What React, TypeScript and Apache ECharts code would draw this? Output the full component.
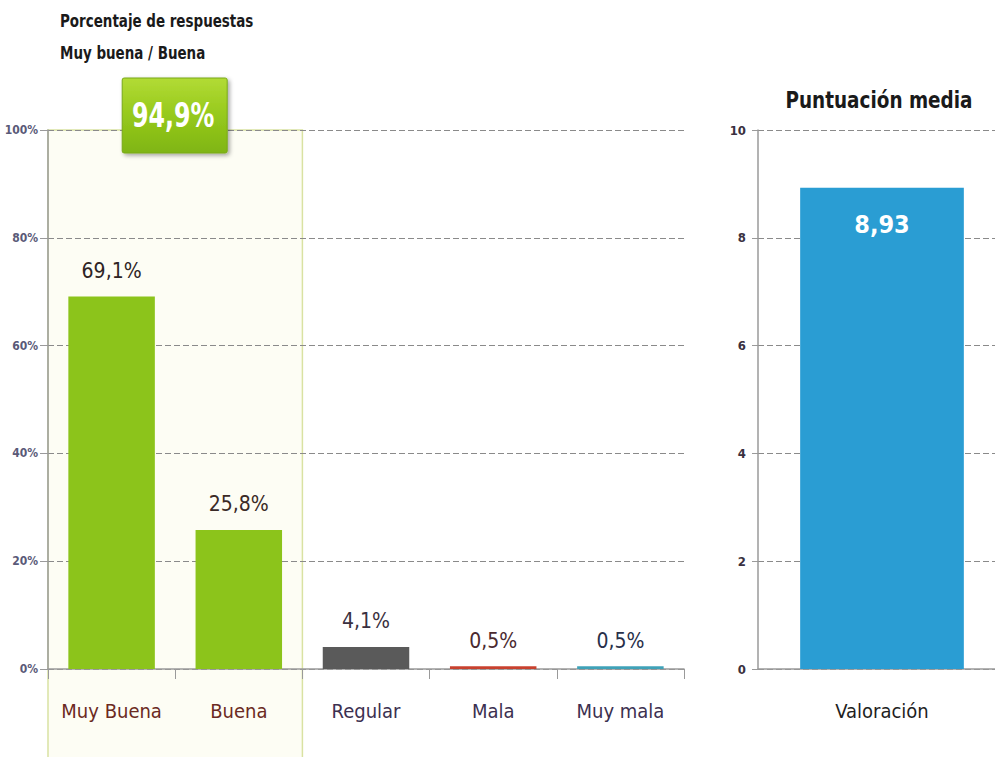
import React, { useEffect, useRef } from "react";
import * as echarts from "echarts";

const categories = ["Muy Buena", "Buena", "Regular", "Mala", "Muy mala"];
const percentages = [69.1, 25.8, 4.1, 0.5, 0.5];
const barColors = ["#8cc41b", "#8cc41b", "#5a5a5a", "#c8412e", "#3fa2b8"];
const labelColors = ["#2e2424", "#3a2a26", "#3a3040", "#4a2a30", "#28304a"];
const catLabelColors = ["#6b2a22", "#6b2a22", "#3c3050", "#3c3050", "#3c3050"];
const percentTicks = [0, 20, 40, 60, 80, 100];
const combinedLabel = "94,9%";
const scoreCategories = ["Valoración"];
const scoreValues = [8.93];

const FONT = "'DejaVu Sans Condensed', 'Liberation Sans Narrow', sans-serif";

const fmt = (v: number, d: number) => v.toFixed(d).replace(".", ",");

export default function App() {
  const ref = useRef<HTMLDivElement>(null);
  useEffect(() => {
    document.body.style.margin = "0";
    const chart = echarts.init(ref.current!, null, { renderer: "svg" });
    const option: any = {
      animation: false,
      backgroundColor: "#ffffff",
      grid: [
        { left: 48, top: 130, width: 636, bottom: 88 },
        { left: 758, top: 130, width: 248, bottom: 88 },
      ],
      xAxis: [
        {
          gridIndex: 0,
          type: "category",
          data: categories,
          axisLine: { lineStyle: { color: "#9a9a9a", width: 1.5 } },
          axisTick: { show: true, length: 10, lineStyle: { color: "#9a9a9a" } },
          axisLabel: {
            interval: 0,
            margin: 32,
            fontFamily: FONT,
            fontSize: 20,
            color: (v: string, i: number) => catLabelColors[i],
          },
        },
        {
          gridIndex: 1,
          type: "category",
          data: scoreCategories,
          axisLine: { lineStyle: { color: "#9a9a9a", width: 1.5 } },
          axisTick: { show: false },
          axisLabel: { interval: 0, margin: 32, fontFamily: FONT, fontSize: 20, color: "#1e1e1e" },
        },
      ],
      yAxis: [
        {
          gridIndex: 0,
          type: "value",
          min: percentTicks[0],
          max: percentTicks[percentTicks.length - 1],
          interval: 20,
          axisLine: { show: true, lineStyle: { color: "#9a9a9a", width: 1.5 } },
          axisTick: { show: true, length: 8, lineStyle: { color: "#9a9a9a" } },
          axisLabel: {
            margin: 10,
            fontFamily: FONT,
            fontWeight: "bold",
            fontSize: 12,
            color: (v: number) => (v === 100 ? "#7a5030" : v === 0 ? "#1a1a1a" : "#5a5a78"),
            formatter: "{value}%",
          },
          splitLine: { show: true, lineStyle: { color: "#8a8a8a", type: [6, 3], width: 1.2 } },
        },
        {
          gridIndex: 1,
          type: "value",
          min: 0,
          max: 10,
          interval: 2,
          axisLine: { show: true, lineStyle: { color: "#9a9a9a", width: 1.5 } },
          axisTick: { show: true, length: 6, lineStyle: { color: "#9a9a9a" } },
          axisLabel: {
            margin: 12,
            fontFamily: FONT,
            fontWeight: "bold",
            fontSize: 13,
            color: "#3a3040",
          },
          splitLine: { show: true, lineStyle: { color: "#8a8a8a", type: [6, 3], width: 1.2 } },
        },
      ],
      series: [
        {
          type: "bar",
          xAxisIndex: 0,
          yAxisIndex: 0,
          barCategoryGap: "32%",
          z: 3,
          data: percentages.map((v, i) => ({
            value: v,
            itemStyle: { color: barColors[i] },
            label: { color: labelColors[i] },
          })),
          label: {
            show: true,
            position: "top",
            distance: 15,
            fontFamily: FONT,
            fontSize: 21,
            formatter: (p: any) => fmt(p.value, 1) + "%",
          },
        },
        {
          type: "bar",
          xAxisIndex: 1,
          yAxisIndex: 1,
          barCategoryGap: "34%",
          z: 3,
          data: scoreValues,
          itemStyle: { color: "#2a9dd3" },
          label: {
            show: true,
            position: "insideTop",
            distance: 24,
            fontFamily: FONT,
            fontWeight: "bold",
            fontSize: 25,
            color: "#ffffff",
            formatter: (p: any) => fmt(p.value, 2),
          },
        },
      ],
    };
    chart.setOption(option);

    const c0 = chart.convertToPixel({ xAxisIndex: 0 }, categories[0]) as number;
    const c1 = chart.convertToPixel({ xAxisIndex: 0 }, categories[1]) as number;
    const band = c1 - c0;
    const boxLeft = c0 - band / 2;
    const boxRight = c1 + band / 2;
    const yTop = chart.convertToPixel({ yAxisIndex: 0 }, 100) as number;
    const scoreX = chart.convertToPixel({ xAxisIndex: 1 }, scoreCategories[0]) as number;
    const boxCx = (boxLeft + boxRight) / 2;

    chart.setOption({
      graphic: [
        {
          type: "rect",
          z: -10,
          silent: true,
          shape: { x: boxLeft, y: yTop, width: boxRight - boxLeft, height: 800 },
          style: { fill: "#fdfdf4", stroke: "#d9e2a2", lineWidth: 1.5 },
        },
        {
          type: "group",
          z: 10,
          children: [
            {
              type: "rect",
              shape: { x: boxCx - 53, y: yTop - 52, width: 105, height: 75, r: 2 },
              style: {
                fill: new echarts.graphic.LinearGradient(0, 0, 0, 1, [
                  { offset: 0, color: "#b2db35" },
                  { offset: 0.5, color: "#96c91c" },
                  { offset: 1, color: "#7fb512" },
                ]),
                stroke: "#78a818",
                lineWidth: 1,
                shadowBlur: 4,
                shadowOffsetX: 2,
                shadowOffsetY: 2,
                shadowColor: "rgba(0,0,0,0.35)",
              },
            },
            {
              type: "text",
              x: boxCx - 2,
              y: yTop - 15,
              scaleX: 0.8,
              style: {
                text: combinedLabel,
                fill: "#ffffff",
                font: `bold 33px ${FONT}`,
                textAlign: "center",
                textVerticalAlign: "middle",
              },
            },
          ],
        },
        {
          type: "text",
          x: 60,
          y: 5,
          scaleX: 0.88,
          style: {
            text: "Porcentaje de respuestas\nMuy buena / Buena",
            fill: "#1a1a1a",
            font: `bold 17px ${FONT}`,
            lineHeight: 32,
          },
        },
        {
          type: "text",
          x: scoreX - 3,
          y: 100,
          scaleX: 0.89,
          style: {
            text: "Puntuación media",
            fill: "#1a1a1a",
            font: `bold 23px ${FONT}`,
            textAlign: "center",
            textVerticalAlign: "middle",
          },
        },
      ],
    });

    return () => chart.dispose();
  }, []);
  return (
    <div style={{ width: 995, height: 757, overflow: "hidden", position: "relative" }}>
      <div ref={ref} style={{ width: 1010, height: 757 }} />
    </div>
  );
}
